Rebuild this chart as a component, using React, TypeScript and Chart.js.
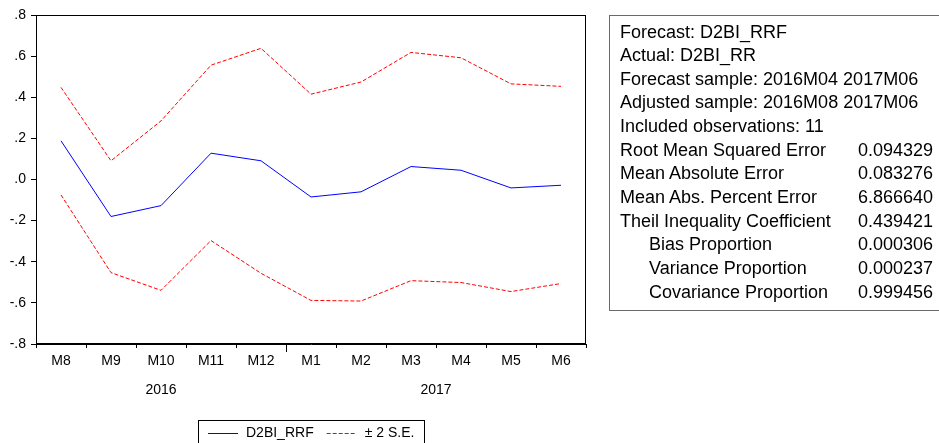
import { useEffect, useRef } from "react";
import { Chart, registerables } from "chart.js";

Chart.register(...registerables);

const months = ["M8", "M9", "M10", "M11", "M12", "M1", "M2", "M3", "M4", "M5", "M6"];
const years = ["2016", "2017"];
const yearOfMonth = [0, 0, 0, 0, 0, 1, 1, 1, 1, 1, 1];

const forecast = [0.188, -0.18, -0.127, 0.128, 0.091, -0.085, -0.06, 0.063, 0.045, -0.041, -0.028];
const upperBand = [0.448, 0.091, 0.285, 0.556, 0.638, 0.415, 0.474, 0.618, 0.592, 0.465, 0.453];
const lowerBand = [-0.075, -0.453, -0.539, -0.297, -0.456, -0.588, -0.591, -0.492, -0.501, -0.545, -0.506];

const headerLines = [
  "Forecast: D2BI_RRF",
  "Actual: D2BI_RR",
  "Forecast sample: 2016M04 2017M06",
  "Adjusted sample: 2016M08 2017M06",
  "Included observations: 11",
];
const statNames = [
  "Root Mean Squared Error",
  "Mean Absolute Error",
  "Mean Abs. Percent Error",
  "Theil Inequality Coefficient",
  "Bias Proportion",
  "Variance Proportion",
  "Covariance Proportion",
];
const statValues = ["0.094329", "0.083276", "6.866640", "0.439421", "0.000306", "0.000237", "0.999456"];
const statIndented = [false, false, false, false, true, true, true];

const FONT = "'Liberation Sans', Arial, sans-serif";

const framePlugin = {
  id: "frame",
  afterDraw(chart: any) {
    const { ctx, chartArea: a, scales } = chart;
    const x = scales.x;
    ctx.save();
    ctx.strokeStyle = "#000";
    ctx.lineWidth = 1;
    ctx.strokeRect(Math.round(a.left) + 0.5, Math.round(a.top) + 0.5, Math.round(a.right - a.left) - 1, Math.round(a.bottom - a.top) - 1);

    // year labels + longer tick where the year changes
    ctx.font = `14px ${FONT}`;
    ctx.fillStyle = "#000";
    ctx.textAlign = "center";
    ctx.textBaseline = "middle";
    years.forEach((yr, k) => {
      const idx = yearOfMonth.map((v, i) => (v === k ? i : -1)).filter((i) => i >= 0);
      const first = idx[0];
      const last = idx[idx.length - 1];
      ctx.fillText(yr, x.getPixelForValue((first + last) / 2), a.bottom + 46);
      if (first > 0) {
        const px = Math.round(x.getPixelForValue(first - 0.5)) + 0.5;
        ctx.beginPath();
        ctx.moveTo(px, a.bottom);
        ctx.lineTo(px, a.bottom + 8);
        ctx.stroke();
      }
    });

    // legend box
    const seen = new Set<string>();
    const items = chart.data.datasets.filter((d: any) => {
      if (seen.has(d.label)) return false;
      seen.add(d.label);
      return true;
    });
    ctx.font = `14px ${FONT}`;
    const pad = 10, sample = 30, gap = 8, between = 13;
    const widths = items.map((d: any) => ctx.measureText(d.label).width);
    const total = pad * 2 + widths.reduce((s: number, w: number) => s + sample + gap + w, 0) + between * (items.length - 1);
    const left = Math.round((a.left + a.right) / 2 - total / 2);
    const top = 420;
    ctx.strokeStyle = "#000";
    ctx.strokeRect(left + 0.5, top + 0.5, Math.round(total), 40);
    let cx = left + pad;
    const cy = top + 13;
    ctx.textAlign = "left";
    items.forEach((d: any, i: number) => {
      ctx.save();
      ctx.strokeStyle = d.borderColor;
      ctx.setLineDash(d.borderDash || []);
      ctx.beginPath();
      ctx.moveTo(cx, cy + 0.5);
      ctx.lineTo(cx + sample, cy + 0.5);
      ctx.stroke();
      ctx.restore();
      cx += sample + gap;
      ctx.fillStyle = "#000";
      ctx.fillText(d.label, cx, cy);
      cx += widths[i] + between;
    });
    ctx.restore();
  },
};

function ForecastChart() {
  const canvasRef = useRef<HTMLCanvasElement>(null);

  useEffect(() => {
    const canvas = canvasRef.current;
    if (!canvas) return;
    const chart = new Chart(canvas, {
      type: "line",
      data: {
        labels: months,
        datasets: [
          { label: "D2BI_RRF", data: forecast, borderColor: "#0000FF", borderWidth: 1, pointRadius: 0, tension: 0 },
          { label: "± 2 S.E.", data: upperBand, borderColor: "#FF0000", borderWidth: 1, borderDash: [4, 2], pointRadius: 0, tension: 0 },
          { label: "± 2 S.E.", data: lowerBand, borderColor: "#FF0000", borderWidth: 1, borderDash: [4, 2], pointRadius: 0, tension: 0 },
        ],
      },
      options: {
        responsive: false,
        animation: false,
        devicePixelRatio: 1,
        layout: { padding: { left: 0, top: 15, right: 353, bottom: 0 } },
        plugins: { legend: { display: false }, tooltip: { enabled: false } },
        scales: {
          x: {
            type: "category",
            offset: true,
            afterFit: (s: any) => {
              s.height = 99;
            },
            grid: { drawOnChartArea: false, drawTicks: true, tickLength: 4, color: "#000", offset: true },
            border: { color: "#000" },
            ticks: { color: "#000", font: { family: FONT, size: 14 }, padding: 5, maxRotation: 0, autoSkip: false },
          },
          y: {
            min: -0.8,
            max: 0.8,
            afterFit: (s: any) => {
              s.width = 36;
            },
            grid: { drawOnChartArea: false, drawTicks: true, tickLength: 5, color: "#000" },
            border: { color: "#000" },
            ticks: {
              stepSize: 0.2,
              color: "#000",
              padding: 5,
              font: { family: FONT, size: 14 },
              callback: (v: any) => Number(v).toFixed(1).replace(/^(-?)0\./, "$1."),
            },
          },
        },
      },
      plugins: [framePlugin],
    });
    return () => chart.destroy();
  }, []);

  return <canvas ref={canvasRef} width={939} height={443} style={{ display: "block" }} />;
}

function StatsBox() {
  const rowH = 23.64;
  const rows = [
    ...headerLines.map((t) => ({ name: t, value: "", indent: false })),
    ...statNames.map((n, i) => ({ name: n, value: statValues[i], indent: statIndented[i] })),
  ];
  return (
    <div
      style={{
        position: "absolute",
        left: 609,
        top: 15,
        width: 345,
        height: 294,
        border: "1px solid #6a6a6a",
        fontFamily: FONT,
        fontSize: 18,
        color: "#000",
      }}
    >
      {rows.map((r, i) => (
        <div key={i} style={{ position: "absolute", left: 0, top: 4.5 + i * rowH, height: rowH, lineHeight: `${rowH}px`, width: "100%", whiteSpace: "nowrap" }}>
          <span style={{ position: "absolute", left: r.indent ? 39 : 10 }}>{r.name}</span>
          {r.value && <span style={{ position: "absolute", left: 213, width: 110, textAlign: "right" }}>{r.value}</span>}
        </div>
      ))}
    </div>
  );
}

export default function App() {
  return (
    <div style={{ position: "fixed", left: 0, top: 0, width: 939, height: 443, overflow: "hidden", background: "#fff" }}>
      <ForecastChart />
      <StatsBox />
    </div>
  );
}
